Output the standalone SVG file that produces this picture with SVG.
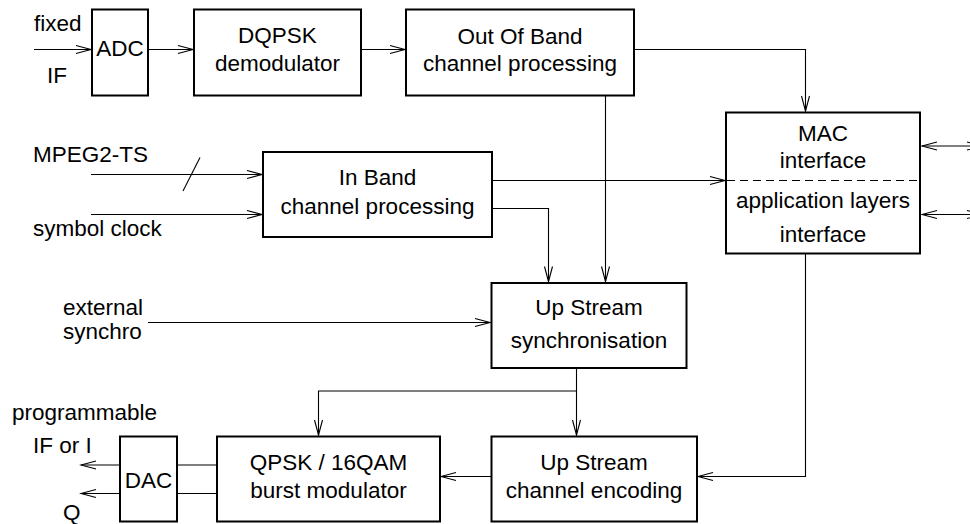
<svg xmlns="http://www.w3.org/2000/svg" width="970" height="524" viewBox="0 0 970 524">
  <defs>
    <marker id="arrow" markerUnits="userSpaceOnUse" markerWidth="20" markerHeight="12" viewBox="-17 -6 19 12" refX="0" refY="0" orient="auto-start-reverse">
      <path d="M -15 -4 L 0 0 L -15 4" fill="none" stroke="#000" stroke-width="1.1"/>
    </marker>
    <style>
      .box { fill: #fff; stroke: #000; stroke-width: 2; }
      .ln { fill: none; stroke: #000; stroke-width: 1.1; }
      .arr { marker-end: url(#arrow); }
      .dbl { marker-start: url(#arrow); marker-end: url(#arrow); }
      text { font-family: "Liberation Sans", Arial, Helvetica, sans-serif; font-size: 22.5px; fill: #000; }
      .c { text-anchor: middle; }
    </style>
  </defs>

  <rect width="970" height="524" fill="#fff"/>

  <!-- connectors -->
  <g id="connectors">
    <line class="ln arr" x1="34" y1="49.5" x2="91" y2="49.5"/>
    <line class="ln arr" x1="148" y1="49.5" x2="193" y2="49.5"/>
    <line class="ln arr" x1="361" y1="49.5" x2="405" y2="49.5"/>
    <polyline class="ln arr" points="634,49.5 805.5,49.5 805.5,111"/>
    <line class="ln arr" x1="605.5" y1="95" x2="605.5" y2="281.5"/>
    <line class="ln arr" x1="91" y1="174.5" x2="262" y2="174.5"/>
    <line class="ln" x1="183" y1="191" x2="200" y2="157.5"/>
    <line class="ln arr" x1="91" y1="214.5" x2="262" y2="214.5"/>
    <line class="ln arr" x1="492" y1="180.5" x2="725" y2="180.5"/>
    <polyline class="ln arr" points="492,208.5 548.5,208.5 548.5,281.5"/>
    <line class="ln arr" x1="148" y1="322.5" x2="490" y2="322.5"/>
    <line class="ln arr" x1="576.5" y1="368" x2="576.5" y2="435"/>
    <polyline class="ln arr" points="576.5,391 318.5,391 318.5,435"/>
    <polyline class="ln arr" points="805.5,254 805.5,476.5 698,476.5"/>
    <line class="ln arr" x1="491" y1="476.5" x2="441" y2="476.5"/>
    <line class="ln" x1="177" y1="465" x2="217" y2="465"/>
    <line class="ln" x1="177" y1="493.5" x2="217" y2="493.5"/>
    <line class="ln arr" x1="120" y1="465" x2="81" y2="465"/>
    <line class="ln arr" x1="120" y1="493.5" x2="81" y2="493.5"/>
    <line class="ln dbl" x1="922" y1="146" x2="982" y2="146"/>
    <line class="ln dbl" x1="922" y1="214.5" x2="982" y2="214.5"/>
  </g>

  <!-- signal labels -->
  <g id="labels">
    <text x="34" y="31">fixed</text>
    <text x="47" y="83">IF</text>
    <text x="33" y="162">MPEG2-TS</text>
    <text x="33" y="236">symbol clock</text>
    <text x="63" y="315">external</text>
    <text x="63" y="339">synchro</text>
    <text x="12" y="420">programmable</text>
    <text x="33" y="453">IF or I</text>
    <text x="63" y="520">Q</text>
  </g>

  <g id="adc">
    <rect class="box" x="92" y="9.5" width="56" height="86"/>
    <text class="c" x="120" y="56">ADC</text>
  </g>

  <g id="dqpsk">
    <rect class="box" x="194" y="9.5" width="167" height="86"/>
    <text class="c" x="277.5" y="43">DQPSK</text>
    <text class="c" x="277.5" y="71">demodulator</text>
  </g>

  <g id="oob">
    <rect class="box" x="406" y="9.5" width="228" height="86"/>
    <text class="c" x="520" y="43.5">Out Of Band</text>
    <text class="c" x="520" y="71">channel processing</text>
  </g>

  <g id="mac">
    <rect class="box" x="726" y="112.5" width="194" height="141"/>
    <line x1="727" y1="180.5" x2="919" y2="180.5" stroke="#000" stroke-width="1.1" stroke-dasharray="8,5"/>
    <text class="c" x="823" y="141">MAC</text>
    <text class="c" x="823" y="168">interface</text>
    <text class="c" x="823" y="208">application layers</text>
    <text class="c" x="823" y="242">interface</text>
  </g>

  <g id="inband">
    <rect class="box" x="263" y="152" width="229" height="85"/>
    <text class="c" x="377.5" y="185">In Band</text>
    <text class="c" x="377.5" y="214">channel processing</text>
  </g>

  <g id="sync">
    <rect class="box" x="491.5" y="283" width="195" height="85"/>
    <text class="c" x="589" y="315">Up Stream</text>
    <text class="c" x="589" y="348">synchronisation</text>
  </g>

  <g id="dac">
    <rect class="box" x="120" y="436.5" width="57" height="85"/>
    <text class="c" x="148.5" y="488">DAC</text>
  </g>

  <g id="modulator">
    <rect class="box" x="217" y="436.5" width="223" height="85"/>
    <text class="c" x="328.5" y="470">QPSK / 16QAM</text>
    <text class="c" x="328.5" y="498">burst modulator</text>
  </g>

  <g id="encoder">
    <rect class="box" x="491.5" y="436.5" width="205.5" height="85"/>
    <text class="c" x="594" y="470">Up Stream</text>
    <text class="c" x="594" y="498">channel encoding</text>
  </g>
</svg>
